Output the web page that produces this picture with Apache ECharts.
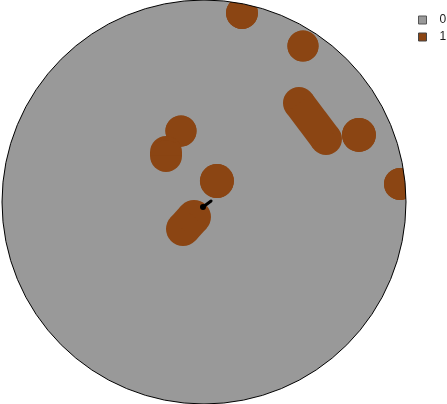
<!DOCTYPE html>
<html>
<head>
<meta charset="utf-8">
<script src="https://cdn.jsdelivr.net/npm/echarts@6/dist/echarts.min.js"></script>
<style>html,body{margin:0;padding:0;background:#fff}#c{width:447px;height:404px}</style>
</head>
<body>
<div id="c"></div>
<script>
// Map units: disk centred at (0,0) with radius 100
var categories = ['0', '1'];
var diskX = [0], diskY = [0], diskR = [100];
// Patches of class "1": capsules from (x1,y1) to (x2,y2) with radius r
var patchX1 = [18.8, 49.0, 47.0, 76.7, 97.0, -11.4, -18.8, 6.4, -4.95];
var patchY1 = [93.6, 77.2, 49.0, 33.2, 8.9, 35.1, 24.75, 10.4, -7.4];
var patchX2 = [18.8, 49.0, 60.4, 76.7, 97.0, -11.4, -18.8, 6.4, -10.4];
var patchY2 = [93.6, 77.2, 31.2, 33.2, 8.9, 35.1, 22.8, 10.4, -13.4];
var patchR  = [7.9, 7.7, 7.9, 8.4, 7.9, 7.7, 7.9, 8.4, 8.4];
// Small marker (dot + line)
var markX = [-0.5, 3.5];
var markY = [-2.5, 0.5];

var GRAY = '#999999', BROWN = '#8B4513';

var diskData = diskX.map(function (x, i) { return [x, diskY[i], diskR[i]]; });
var patchData = patchX1.map(function (x, i) { return [x, patchY1[i], patchX2[i], patchY2[i], patchR[i]]; });
var markData = [[markX[0], markY[0], markX[1], markY[1]]];

var chart = echarts.init(document.getElementById('c'), null, { renderer: 'canvas' });
chart.setOption({
  animation: false,
  backgroundColor: '#ffffff',
  grid: { left: 2, top: 0, width: 404, height: 404, containLabel: false },
  xAxis: { type: 'value', min: -100, max: 100, show: false },
  yAxis: { type: 'value', min: -100, max: 100, show: false },
  legend: {
    orient: 'vertical', left: 418, top: 14, padding: 0,
    itemWidth: 8, itemHeight: 8, itemGap: 5,
    icon: 'rect',
    textStyle: { fontFamily: 'Liberation Sans', fontSize: 12, color: '#1a1a1a', padding: [0, 0, 0, 8] },
    data: [
      { name: categories[0], itemStyle: { color: GRAY, borderColor: '#555', borderWidth: 1 } },
      { name: categories[1], itemStyle: { color: BROWN, borderColor: '#444', borderWidth: 1 } }
    ]
  },
  series: [
    {
      name: categories[0], type: 'custom', coordinateSystem: 'cartesian2d', z: 1,
      itemStyle: { color: GRAY },
      data: diskData,
      renderItem: function (params, api) {
        var c = api.coord([api.value(0), api.value(1)]);
        var r = api.size([api.value(2), 0])[0];
        return { type: 'circle', shape: { cx: c[0], cy: c[1], r: r }, style: { fill: GRAY, stroke: null } };
      }
    },
    {
      name: categories[1], type: 'custom', coordinateSystem: 'cartesian2d', z: 2,
      itemStyle: { color: BROWN },
      data: patchData,
      renderItem: function (params, api) {
        var a = api.coord([api.value(0), api.value(1)]);
        var b = api.coord([api.value(2), api.value(3)]);
        var r = api.size([api.value(4), 0])[0];
        var st = { fill: BROWN, stroke: null };
        return {
          type: 'group',
          children: [
            { type: 'circle', shape: { cx: a[0], cy: a[1], r: r }, style: st },
            { type: 'circle', shape: { cx: b[0], cy: b[1], r: r }, style: st },
            { type: 'line', shape: { x1: a[0], y1: a[1], x2: b[0], y2: b[1] },
              style: { stroke: BROWN, lineWidth: 2 * r, lineCap: 'butt' } }
          ]
        };
      }
    },
    {
      name: 'mark', type: 'custom', coordinateSystem: 'cartesian2d', z: 3,
      data: markData,
      renderItem: function (params, api) {
        var a = api.coord([api.value(0), api.value(1)]);
        var b = api.coord([api.value(2), api.value(3)]);
        return {
          type: 'group',
          children: [
            { type: 'line', shape: { x1: a[0], y1: a[1], x2: b[0], y2: b[1] },
              style: { stroke: '#000', lineWidth: 3, lineCap: 'round' } },
            { type: 'circle', shape: { cx: a[0], cy: a[1], r: 3 }, style: { fill: '#000' } }
          ]
        };
      }
    },
    {
      name: 'outline', type: 'custom', coordinateSystem: 'cartesian2d', z: 4,
      data: diskData,
      renderItem: function (params, api) {
        var c = api.coord([api.value(0), api.value(1)]);
        var r = api.size([api.value(2), 0])[0];
        return {
          type: 'group',
          children: [
            { type: 'ring', shape: { cx: c[0], cy: c[1], r: r + 40, r0: r }, style: { fill: '#ffffff' } },
            { type: 'circle', shape: { cx: c[0], cy: c[1], r: r }, style: { fill: null, stroke: '#000', lineWidth: 1 } }
          ]
        };
      }
    }
  ]
});
</script>
</body>
</html>
